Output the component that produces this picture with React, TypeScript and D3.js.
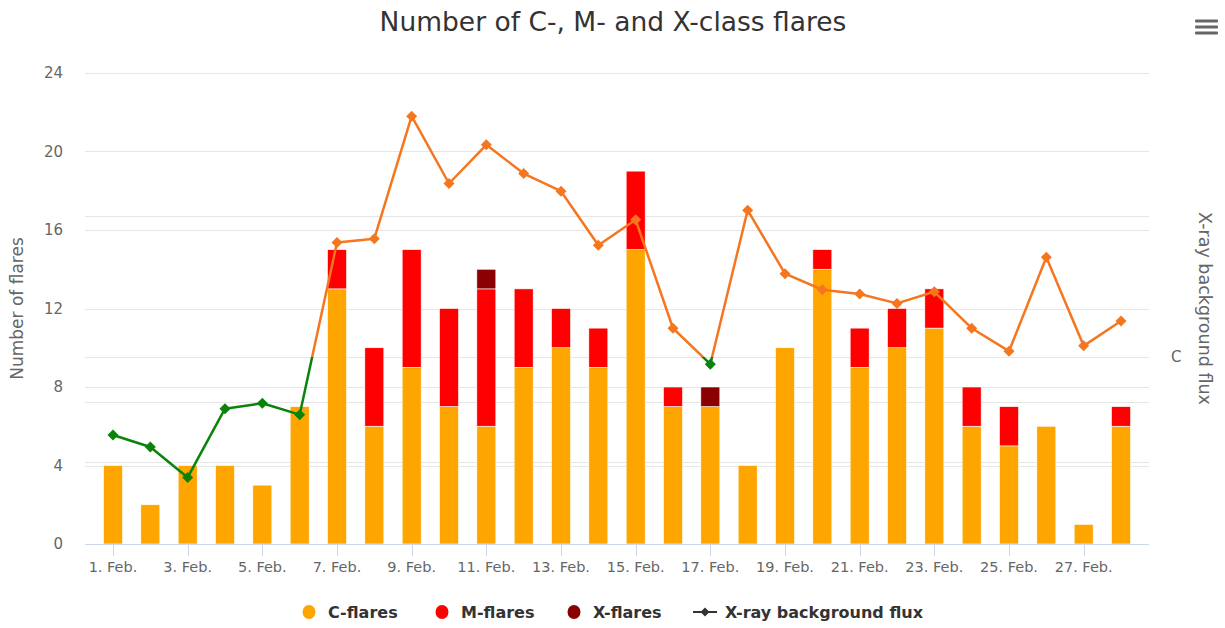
import React from "react";
import * as d3 from "d3";

const days = d3.range(1, 29);
const cFlares = [4, 2, 4, 4, 3, 7, 13, 6, 9, 7, 6, 9, 10, 9, 15, 7, 7, 4, 10, 14, 9, 10, 11, 6, 5, 6, 1, 6];
const mFlares = [0, 0, 0, 0, 0, 0, 2, 4, 6, 5, 7, 4, 2, 2, 4, 1, 0, 0, 0, 1, 2, 2, 2, 2, 2, 0, 0, 1];
const xFlares = [0, 0, 0, 0, 0, 0, 0, 0, 0, 0, 1, 0, 0, 0, 0, 0, 1, 0, 0, 0, 0, 0, 0, 0, 0, 0, 0, 0];
const flux = [
  2.8e-7, 2.3e-7, 1.4e-7, 4.3e-7, 4.7e-7, 3.9e-7, 6.5e-6, 6.9e-6, 5.1e-5, 1.7e-5,
  3.2e-5, 2.0e-5, 1.5e-5, 6.2e-6, 9.4e-6, 1.6e-6, 8.9e-7, 1.1e-5, 3.9e-6, 3.0e-6,
  2.8e-6, 2.4e-6, 2.9e-6, 1.6e-6, 1.1e-6, 5.1e-6, 1.2e-6, 1.8e-6,
];
const leftTicks = [0, 4, 8, 12, 16, 20, 24];
const fluxGrid = [1e-5, 1e-6, 4.8e-7, 1.8e-7];
const fluxLabels = [{ value: 1e-6, label: "C" }];
const xTickDays = [1, 3, 5, 7, 9, 11, 13, 15, 17, 19, 21, 23, 25, 27];
const cThreshold = 1e-6;

const legendItems = [
  { name: "C-flares", color: "#FFA500", type: "circle", x: 309 },
  { name: "M-flares", color: "#FF0000", type: "circle", x: 442 },
  { name: "X-flares", color: "#8B0000", type: "circle", x: 574 },
  { name: "X-ray background flux", color: "#333333", type: "line", x: 705 },
];

const FONT = "'DejaVu Sans', sans-serif";

export default function App() {
  const W = 1225, H = 628;
  const left = 85, right = 1149, top = 73, bottom = 544;
  const xs = d3.scaleLinear().domain([0.25, 28.75]).range([left, right]);
  const ys = d3.scaleLinear().domain([0, 24]).range([bottom, top]);
  const ys2 = d3.scaleLog().domain([4.72e-8, 1.033e-4]).range([bottom, top]);
  const barW = 19;
  const yC = ys2(cThreshold);

  const line = d3
    .line<number>()
    .x((_, i) => xs(days[i]))
    .y((d) => ys2(d));
  const pathD = line(flux) || "";
  const orange = "#F5761F";
  const green = "#0A830A";
  const diamond = (cx: number, cy: number, r: number) =>
    `M${cx},${cy - r}L${cx + r},${cy}L${cx},${cy + r}L${cx - r},${cy}Z`;

  return (
    <svg
      width={W}
      height={H}
      style={{ position: "absolute", left: 0, top: 0, background: "#fff" }}
      fontFamily={FONT}
    >
      <defs>
        <clipPath id="clipAbove">
          <rect x={0} y={0} width={W} height={yC} />
        </clipPath>
        <clipPath id="clipBelow">
          <rect x={0} y={yC} width={W} height={H - yC} />
        </clipPath>
      </defs>
      <rect width={W} height={H} fill="#fff" />
      <text x={613} y={31} textAnchor="middle" fontSize={26.5} fill="#333">
        Number of C-, M- and X-class flares
      </text>
      {/* hamburger */}
      {[21, 27, 33].map((y) => (
        <rect key={y} x={1195} y={y - 1.5} width={23} height={3} rx={1} fill="#666" />
      ))}

      {/* gridlines */}
      {leftTicks.map((t) => (
        <line key={"g" + t} x1={left} x2={right} y1={Math.round(ys(t)) + 0.5} y2={Math.round(ys(t)) + 0.5} stroke="#e6e6e6" />
      ))}
      {fluxGrid.map((f) => (
        <line key={"f" + f} x1={left} x2={right} y1={Math.round(ys2(f)) + 0.5} y2={Math.round(ys2(f)) + 0.5} stroke="#e6e6e6" />
      ))}

      {/* left axis labels */}
      {leftTicks.map((t) => (
        <text key={"l" + t} x={63} y={ys(t) + 5} textAnchor="end" fontSize={15} fill="#666">
          {t}
        </text>
      ))}
      <text transform={`translate(23,${(top + bottom) / 2}) rotate(-90)`} textAnchor="middle" fontSize={17} fill="#666">
        Number of flares
      </text>

      {/* right axis */}
      {fluxLabels.map((l) => (
        <text key={l.label} x={1171} y={ys2(l.value) + 5} fontSize={15} fill="#666">
          {l.label}
        </text>
      ))}
      <text transform={`translate(1199,${(top + bottom) / 2}) rotate(90)`} textAnchor="middle" fontSize={17.5} fill="#666">
        X-ray background flux
      </text>

      {/* bars */}
      {days.map((d, i) => {
        const x = xs(d) - barW / 2;
        const c = cFlares[i], m = mFlares[i], xf = xFlares[i];
        const segs = [
          { v0: 0, v1: c, color: "#FFA500" },
          { v0: c, v1: c + m, color: "#FF0000" },
          { v0: c + m, v1: c + m + xf, color: "#8B0000" },
        ];
        return (
          <g key={"b" + d}>
            {segs
              .filter((s) => s.v1 > s.v0)
              .map((s, j) => (
                <rect
                  key={j}
                  x={x}
                  y={ys(s.v1)}
                  width={barW}
                  height={ys(s.v0) - ys(s.v1)}
                  fill={s.color}
                  stroke="#fff"
                  strokeWidth={0.6}
                />
              ))}
          </g>
        );
      })}

      {/* x axis */}
      <line x1={left} x2={right} y1={bottom + 0.5} y2={bottom + 0.5} stroke="#ccd6eb" />
      {xTickDays.map((d) => (
        <g key={"x" + d}>
          <line x1={Math.round(xs(d)) + 0.5} x2={Math.round(xs(d)) + 0.5} y1={bottom} y2={bottom + 12} stroke="#ccd6eb" />
          <text x={xs(d)} y={572} textAnchor="middle" fontSize={14.5} fill="#666">
            {`${d}. Feb.`}
          </text>
        </g>
      ))}

      {/* flux line with zones */}
      <path d={pathD} fill="none" stroke={orange} strokeWidth={2.5} clipPath="url(#clipAbove)" strokeLinejoin="round" />
      <path d={pathD} fill="none" stroke={green} strokeWidth={2.5} clipPath="url(#clipBelow)" strokeLinejoin="round" />
      {flux.map((f, i) => (
        <path key={"m" + i} d={diamond(xs(days[i]), ys2(f), 5.5)} fill={f >= cThreshold ? orange : green} />
      ))}

      {/* legend */}
      {legendItems.map((it) => (
        <g key={it.name}>
          {it.type === "circle" ? (
            <ellipse cx={it.x} cy={612} rx={6.5} ry={7} fill={it.color} />
          ) : (
            <g>
              <line x1={it.x - 12} x2={it.x + 12} y1={612} y2={612} stroke={it.color} strokeWidth={2} />
              <path d={diamond(it.x, 612, 4.5)} fill={it.color} />
            </g>
          )}
          <text x={it.type === "circle" ? it.x + 19 : it.x + 20} y={618} fontSize={16} fontWeight="bold" fill="#333">
            {it.name}
          </text>
        </g>
      ))}
    </svg>
  );
}
